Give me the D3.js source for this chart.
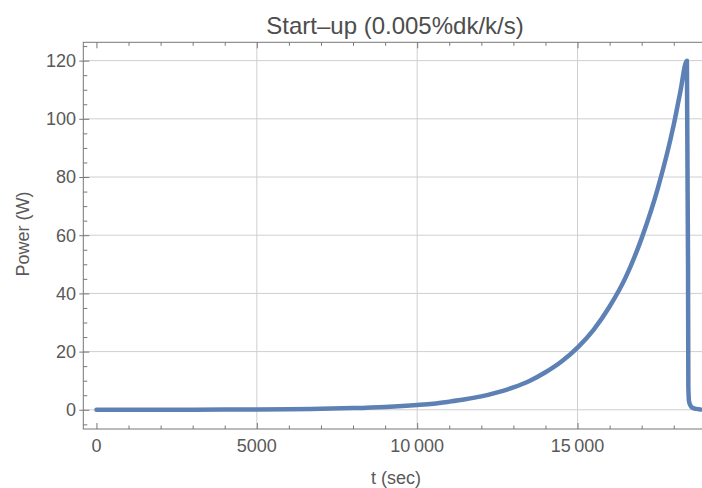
<!DOCTYPE html>
<html>
<head>
<meta charset="utf-8">
<script src="https://cdn.jsdelivr.net/npm/d3@7"></script>
<style>
  body { margin: 0; background: #fff; }
  text { font-family: "Liberation Sans", Arial, sans-serif; }
</style>
</head>
<body>
<div id="chart"></div>
<script>
// start-up transient
var timeSec = [0, 1000, 2000, 3000, 4000, 5000, 6000, 7000, 8000, 9000,
  10000, 10500, 11000, 11500, 12000, 12500, 13000, 13500, 14000, 14500,
  15000, 15500, 16000, 16500, 17000, 17500, 18000, 18200, 18410,
  18445, 18455, 18475, 18520, 18600, 18700, 18830];
var powerW = [0.01, 0.017, 0.03, 0.047, 0.08, 0.13, 0.22, 0.36, 0.6, 1.0,
  1.65, 2.1, 2.8, 3.6, 4.6, 6.0, 7.7, 9.9, 12.9, 16.6,
  21.4, 27.5, 35.5, 45.5, 59, 76, 98, 109, 120,
  50, 8, 3, 1.5, 0.6, 0.3, 0.1];

var xMajor = [0, 5000, 10000, 15000];
var xLabels = ["0", "5000", "10\u2009000", "15\u2009000"];
var yMajor = [0, 20, 40, 60, 80, 100, 120];

var W = 702, H = 488;
var pLeft = 83.3, pTop = 42.3, pBottom = 429, pRight = 710;

var svg = d3.select("#chart").append("svg")
    .attr("width", W)
    .attr("height", H);

var x = d3.scaleLinear().domain([-410, 19130]).range([pLeft, pRight]);
var y = d3.scaleLinear().domain([-6.6, 126.3]).range([pBottom, pTop]);

var gridColor = "#cfcfcf", frameColor = "#777", labelColor = "#595959";

// grid
svg.append("g").selectAll("line")
  .data(yMajor)
  .enter().append("line")
    .attr("x1", pLeft).attr("x2", pRight)
    .attr("y1", function(d) { return y(d); })
    .attr("y2", function(d) { return y(d); })
    .attr("stroke", gridColor);

svg.append("g").selectAll("line")
  .data(xMajor.slice(1))
  .enter().append("line")
    .attr("x1", function(d) { return x(d); })
    .attr("x2", function(d) { return x(d); })
    .attr("y1", pTop).attr("y2", pBottom)
    .attr("stroke", gridColor);

// frame
svg.append("rect")
    .attr("x", pLeft).attr("y", pTop)
    .attr("width", pRight - pLeft).attr("height", pBottom - pTop)
    .attr("fill", "none")
    .attr("stroke", frameColor);

// axes with inward ticks
var xMinor = d3.range(0, 20000, 1000).filter(function(d) { return xMajor.indexOf(d) < 0; });
var yMinor = d3.range(-5, 130, 5).filter(function(d) { return yMajor.indexOf(d) < 0; });

function tickAxis(axisGen, scale, values, size) {
  return axisGen(scale).tickValues(values).tickSize(size).tickFormat("");
}

[[pBottom, d3.axisTop], [pTop, d3.axisBottom]].forEach(function(s) {
  var g = svg.append("g").attr("transform", "translate(0," + s[0] + ")");
  g.call(tickAxis(s[1], x, xMajor, 6));
  g.append("g").call(tickAxis(s[1], x, xMinor, 3.5));
  g.selectAll(".domain").remove();
  g.selectAll("line").attr("stroke", frameColor);
});

var gy = svg.append("g").attr("transform", "translate(" + pLeft + ",0)");
gy.call(tickAxis(d3.axisRight, y, yMajor, 6));
gy.append("g").call(tickAxis(d3.axisRight, y, yMinor, 4));
gy.append("g").call(tickAxis(d3.axisLeft, y, yMajor, 4));
gy.selectAll(".domain").remove();
gy.selectAll("line").attr("stroke", frameColor);

// tick labels
svg.append("g").selectAll("text")
  .data(xMajor)
  .enter().append("text")
    .attr("x", function(d) { return x(d); })
    .attr("y", 452)
    .attr("text-anchor", "middle")
    .attr("font-size", 18)
    .attr("fill", labelColor)
    .text(function(d, i) { return xLabels[i]; });

svg.append("g").selectAll("text")
  .data(yMajor)
  .enter().append("text")
    .attr("x", 76)
    .attr("y", function(d) { return y(d); })
    .attr("dy", "0.35em")
    .attr("text-anchor", "end")
    .attr("font-size", 18)
    .attr("fill", labelColor)
    .text(function(d) { return d; });

// axis titles
svg.append("text")
    .attr("x", 396).attr("y", 484)
    .attr("text-anchor", "middle")
    .attr("font-size", 18)
    .attr("fill", labelColor)
    .text("t (sec)");

svg.append("text")
    .attr("transform", "translate(29,234) rotate(-90)")
    .attr("text-anchor", "middle")
    .attr("font-size", 18)
    .attr("fill", labelColor)
    .text("Power (W)");

svg.append("text")
    .attr("x", 395).attr("y", 34)
    .attr("text-anchor", "middle")
    .attr("font-size", 24)
    .attr("fill", "#4d4d4d")
    .text("Start\u2013up (0.005%dk/k/s)");

// curve
var line = d3.line()
    .x(function(d, i) { return x(timeSec[i]); })
    .y(function(d) { return y(d); })
    .curve(d3.curveMonotoneX);

svg.append("path")
    .datum(powerW)
    .attr("d", line)
    .attr("fill", "none")
    .attr("stroke", "#5e81b5")
    .attr("stroke-width", 4.5)
    .attr("stroke-linejoin", "round")
    .attr("stroke-linecap", "round");
</script>
</body>
</html>
